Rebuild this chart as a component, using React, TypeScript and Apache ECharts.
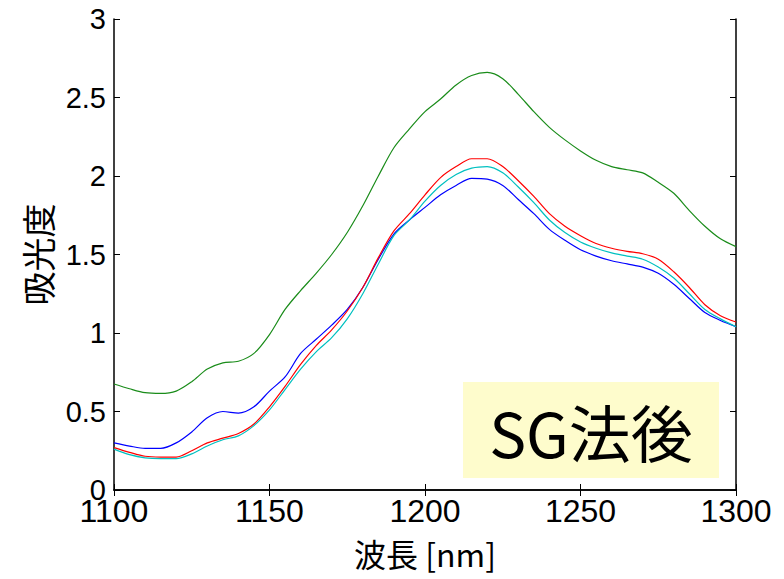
import React, { useEffect, useRef } from "react";
import * as echarts from "echarts";

const wavelengths = [
  1100, 1105, 1110, 1115, 1120, 1125, 1130, 1135, 1140, 1145, 1150, 1155, 1160, 1165, 1170, 1175, 1180,
  1185, 1190, 1195, 1200, 1205, 1210, 1215, 1220, 1225, 1230, 1235, 1240, 1245, 1250, 1255, 1260, 1265,
  1270, 1275, 1280, 1285, 1290, 1295, 1300,
];

const greenValues = [
  0.675, 0.645, 0.62, 0.615, 0.63, 0.69, 0.77, 0.81, 0.82, 0.87, 0.99, 1.15, 1.27, 1.38, 1.5, 1.64, 1.81,
  2.0, 2.18, 2.3, 2.41, 2.49, 2.58, 2.64, 2.66, 2.62, 2.52, 2.41, 2.31, 2.23, 2.16, 2.1, 2.06, 2.04,
  2.02, 1.96, 1.89, 1.78, 1.68, 1.6, 1.55,
];

const blueValues = [
  0.3, 0.28, 0.265, 0.265, 0.3, 0.37, 0.46, 0.5, 0.49, 0.53, 0.63, 0.72, 0.87, 0.96, 1.05, 1.15, 1.29,
  1.47, 1.63, 1.72, 1.8, 1.88, 1.94, 1.985, 1.98, 1.94, 1.85, 1.76, 1.66, 1.59, 1.53, 1.49, 1.46, 1.44,
  1.42, 1.38, 1.31, 1.22, 1.13, 1.08, 1.04,
];

const redValues = [
  0.27, 0.24, 0.215, 0.21, 0.21, 0.25, 0.3, 0.33, 0.36, 0.42, 0.53, 0.66, 0.8, 0.92, 1.02, 1.14, 1.29,
  1.48, 1.65, 1.76, 1.88, 1.99, 2.06, 2.11, 2.11, 2.06, 1.97, 1.87, 1.76, 1.68, 1.62, 1.57, 1.54, 1.52,
  1.505, 1.47, 1.39, 1.29, 1.18, 1.11, 1.07,
];

const cyanValues = [
  0.26, 0.225, 0.205, 0.2, 0.2, 0.23, 0.28, 0.32, 0.345, 0.41, 0.51, 0.64, 0.77, 0.88, 0.97, 1.09, 1.25,
  1.44, 1.62, 1.72, 1.84, 1.94, 2.01, 2.05, 2.06, 2.02, 1.93, 1.83, 1.72, 1.64, 1.58, 1.54, 1.51, 1.49,
  1.47, 1.42, 1.35, 1.25, 1.15, 1.09, 1.04,
];

const xTicks = [1100, 1150, 1200, 1250, 1300];
const yTicks = [0, 0.5, 1, 1.5, 2, 2.5, 3];

const xLabel = "波長 [nm]";
const yLabel = "吸光度";
const annotation = "SG法後";

const seriesDefs = [
  { name: "green", color: "#1a8c1a", values: greenValues },
  { name: "blue", color: "#0000ff", values: blueValues },
  { name: "red", color: "#ff0000", values: redValues },
  { name: "cyan", color: "#00c0c0", values: cyanValues },
];

export default function App() {
  const ref = useRef<HTMLDivElement>(null);

  useEffect(() => {
    if (!ref.current) return;
    const chart = echarts.init(ref.current, null, { renderer: "svg" });
    const axisLine = { show: true, lineStyle: { color: "#000", width: 1.5 } };
    const tickBase = { show: true, inside: true, length: 6, lineStyle: { color: "#000", width: 1 } };
    chart.setOption({
      animation: false,
      backgroundColor: "#fff",
      grid: { left: 114, right: 48, top: 19, bottom: 89, containLabel: false },
      xAxis: [
        {
          type: "value",
          min: xTicks[0],
          max: xTicks[xTicks.length - 1],
          interval: 50,
          axisLine,
          axisTick: tickBase,
          splitLine: { show: false },
          axisLabel: {
            color: "#000",
            fontFamily: "Liberation Sans",
            fontSize: 32,
            margin: 5,
            formatter: (v: number) => String(v),
          },
          name: xLabel,
          nameLocation: "middle",
          nameGap: 47,
          nameTextStyle: { color: "#000", fontFamily: "Noto Sans CJK JP", fontSize: 32, verticalAlign: "top" },
        },
        {
          type: "value",
          position: "top",
          min: xTicks[0],
          max: xTicks[xTicks.length - 1],
          interval: 50,
          axisLine,
          axisTick: tickBase,
          axisLabel: { show: false },
          splitLine: { show: false },
        },
      ],
      yAxis: [
        {
          type: "value",
          min: yTicks[0],
          max: yTicks[yTicks.length - 1],
          interval: 0.5,
          axisLine,
          axisTick: tickBase,
          splitLine: { show: false },
          axisLabel: {
            color: "#000",
            fontFamily: "Liberation Sans",
            fontSize: 29,
            margin: 8,
            formatter: (v: number) => String(v),
          },
          name: yLabel,
          nameLocation: "middle",
          nameGap: 60,
          nameTextStyle: { color: "#000", fontFamily: "Noto Sans CJK JP", fontSize: 34 },
        },
        {
          type: "value",
          position: "right",
          min: yTicks[0],
          max: yTicks[yTicks.length - 1],
          interval: 0.5,
          axisLine,
          axisTick: tickBase,
          axisLabel: { show: false },
          splitLine: { show: false },
        },
      ],
      series: seriesDefs.map((s) => ({
        name: s.name,
        type: "line",
        xAxisIndex: 0,
        yAxisIndex: 0,
        data: wavelengths.map((w, i) => [w, s.values[i]]),
        showSymbol: false,
        smooth: 0.3,
        lineStyle: { color: s.color, width: 1.2 },
        itemStyle: { color: s.color },
      })),
      graphic: [
        {
          type: "rect",
          shape: { x: 463, y: 382, width: 256, height: 96 },
          style: { fill: "#fefccc" },
          z: 10,
        },
        {
          type: "text",
          x: 591,
          y: 431,
          style: {
            text: annotation,
            fill: "#000",
            fontFamily: "Noto Sans CJK JP",
            fontSize: 62,
            align: "center",
            verticalAlign: "middle",
          },
          z: 11,
        },
      ],
    });
    return () => chart.dispose();
  }, []);

  return <div ref={ref} style={{ width: 784, height: 579, position: "absolute", left: 0, top: 0 }} />;
}
